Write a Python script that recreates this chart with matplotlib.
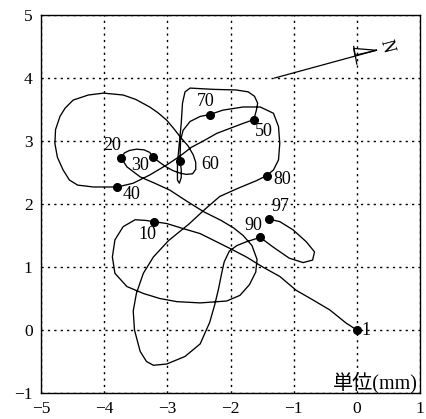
import matplotlib
matplotlib.use("Agg")
import matplotlib.pyplot as plt

# ---- data: trajectory (mm), in time order 1 -> 97 ----
path_x = [0.00, -0.17, -0.43, -0.70, -0.96, -1.22, -1.49, -1.75, -2.02, -2.28, -2.48, -2.75, -3.01, -3.21,
          -3.35, -3.51, -3.70, -3.83, -3.87, -3.83, -3.64, -3.38, -3.12, -2.85, -2.48, -2.06, -1.85, -1.70,
          -1.60, -1.58, -1.66, -1.80, -1.95, -2.15, -2.43, -2.70, -2.96, -3.20, -3.43, -3.64, -3.73,
          -3.68, -3.60, -3.49, -3.37, -3.28, -3.22,
          -3.12, -3.02, -2.91, -2.80, -2.70, -2.60, -2.55, -2.55, -2.59, -2.67, -2.80, -2.90, -3.01, -3.15,
          -3.28, -3.50, -3.70, -4.01, -4.25, -4.49, -4.62, -4.70, -4.77, -4.78, -4.74, -4.65, -4.55, -4.42,
          -4.17, -3.95, -3.79,
          -3.54, -3.28, -3.01, -2.80, -2.62, -2.43, -2.22, -1.96, -1.80, -1.63,
          -1.59, -1.57, -1.62, -1.72, -1.91, -2.28, -2.64, -2.72, -2.76, -2.78, -2.81, -2.84, -2.84, -2.81,
          -2.78, -2.78, -2.80,
          -2.79, -2.75, -2.64, -2.48, -2.33,
          -2.12, -1.80, -1.53, -1.32, -1.24, -1.22, -1.24, -1.32, -1.43,
          -1.59, -1.88, -2.17, -2.40, -2.66, -2.98, -3.22, -3.38, -3.49, -3.54, -3.52, -3.43, -3.33, -3.22,
          -3.01, -2.72, -2.48, -2.33, -2.25, -2.19, -2.14, -2.10, -2.02, -1.90, -1.75, -1.53,
          -1.33, -1.07, -0.85, -0.70, -0.67, -0.80, -1.01, -1.22, -1.39]
path_y = [0.00, 0.11, 0.32, 0.48, 0.63, 0.85, 1.00, 1.16, 1.30, 1.43, 1.53, 1.61, 1.69, 1.72,
          1.74, 1.75, 1.64, 1.43, 1.16, 0.90, 0.69, 0.58, 0.50, 0.45, 0.43, 0.46, 0.55, 0.72,
          0.92, 1.12, 1.34, 1.50, 1.62, 1.74, 1.88, 2.05, 2.22, 2.33, 2.43, 2.59, 2.73,
          2.81, 2.85, 2.87, 2.86, 2.82, 2.74,
          2.66, 2.59, 2.53, 2.49, 2.47, 2.48, 2.55, 2.66, 2.78, 2.92, 3.07, 3.20, 3.33, 3.45,
          3.54, 3.66, 3.73, 3.76, 3.73, 3.65, 3.52, 3.39, 3.18, 2.96, 2.74, 2.54, 2.38, 2.30,
          2.27, 2.27, 2.27,
          2.33, 2.46, 2.62, 2.76, 2.90, 3.00, 3.12, 3.22, 3.28, 3.34,
          3.49, 3.60, 3.71, 3.78, 3.81, 3.82, 3.84, 3.78, 3.60, 3.28, 2.96, 2.65, 2.38, 2.33,
          2.42, 2.55, 2.69,
          3.02, 3.17, 3.31, 3.39, 3.42,
          3.49, 3.54, 3.54, 3.44, 3.23, 2.96, 2.70, 2.54, 2.45,
          2.37, 2.25, 2.12, 1.92, 1.68, 1.42, 1.16, 0.90, 0.58, 0.30, 0.00, -0.34, -0.50, -0.56,
          -0.54, -0.42, -0.22, 0.12, 0.40, 0.65, 0.90, 1.08, 1.25, 1.34, 1.40, 1.47,
          1.32, 1.14, 1.07, 1.11, 1.24, 1.40, 1.59, 1.72, 1.76]

# labelled time steps
mark_labels = ["1", "10", "20", "30", "40", "50", "60", "70", "80", "90", "97"]
mark_x = [0.00, -3.21, -3.73, -3.22, -3.79, -1.63, -2.80, -2.33, -1.43, -1.53, -1.39]
mark_y = [0.00, 1.72, 2.73, 2.74, 2.27, 3.34, 2.69, 3.42, 2.45, 1.47, 1.76]
# label offsets in pixels (dx, dy)
label_off = [(9, 0), (-7, -13), (-9, 13), (-13, -8), (14, -8), (10, -12),
             (30, -4), (-4, 13), (16, -4), (-7, 12), (11, 13)]

x_ticks = [-5, -4, -3, -2, -1, 0, 1]
y_ticks = [-1, 0, 1, 2, 3, 4, 5]

serif = ["Liberation Serif", "DejaVu Serif"]

fig = plt.figure(figsize=(4.26, 4.19), dpi=100)
ax = fig.add_axes([41 / 426, 26 / 419, 379 / 426, 378 / 419])
ax.set_xlim(-5, 1)
ax.set_ylim(-1, 5)
ax.set_xticks(x_ticks)
ax.set_yticks(y_ticks)
ax.tick_params(length=0, pad=6, labelsize=12.5)
for lab in ax.get_xticklabels() + ax.get_yticklabels():
    lab.set_family(serif)
ax.grid(True, color="black", linestyle=(0, (1.6, 3.0)), linewidth=1.0)
for s in ax.spines.values():
    s.set_linewidth(1.0)
    s.set_color("black")

ax.plot(path_x, path_y, color="black", lw=0.95, solid_joinstyle="round", zorder=3)
ax.plot(mark_x, mark_y, "o", color="black", ms=5.5, zorder=4)
for lab, x, y, (dx, dy) in zip(mark_labels, mark_x, mark_y, label_off):
    ax.annotate(lab, (x, y), xytext=(dx, dy), textcoords="offset pixels",
                ha="center", va="center", fontsize=13, family=serif, zorder=5)

# north arrow
ax.plot([-1.30, 0.31], [4.00, 4.44], color="black", lw=0.9)
ax.plot([0.31, -0.05, -0.03, 0.31], [4.44, 4.47, 4.36, 4.44], color="black", lw=0.9)
ax.plot([-0.05, 0.00], [4.50, 4.22], color="black", lw=0.9)
ax.text(0.47, 4.50, "N", rotation=-75, ha="center", va="center",
        fontsize=13, family=serif)

ax.text(0.97, -0.86, "単位(mm)", ha="right", va="center", fontsize=14.5,
        family=["Liberation Serif", "Noto Sans CJK JP"])

fig.savefig("out.png", dpi=100)
